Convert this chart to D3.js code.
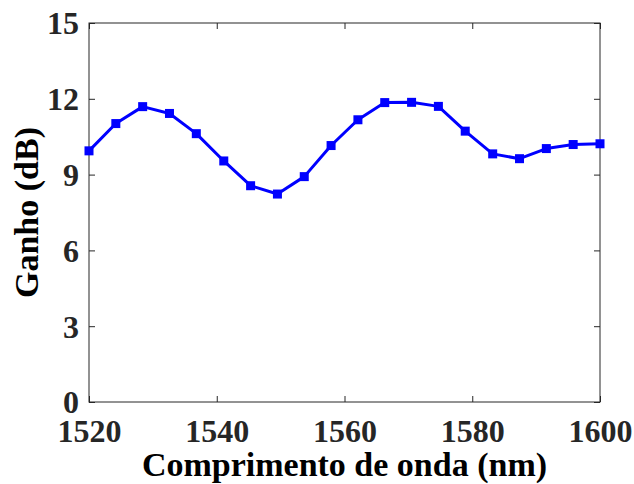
<!DOCTYPE html>
<html>
<head>
<meta charset="utf-8">
<script src="https://cdn.jsdelivr.net/npm/d3@7"></script>
<style>
  body { margin: 0; background: #fff; }
  svg text { font-family: "Liberation Serif", "Times New Roman", serif; font-weight: bold; fill: #262626; }
</style>
</head>
<body>
<svg id="chart" width="634" height="484"></svg>
<script>
// wavelength (nm) and gain (dB)
const wavelength = [1520, 1524.2, 1528.4, 1532.6, 1536.8, 1541.1, 1545.3, 1549.5, 1553.7, 1557.9,
  1562.1, 1566.3, 1570.5, 1574.7, 1578.9, 1583.2, 1587.4, 1591.6, 1595.8, 1600]
const gain = [9.94, 11.02, 11.69, 11.42, 10.62, 9.54, 8.56, 8.23, 8.92, 10.15,
  11.17, 11.85, 11.86, 11.70, 10.72, 9.82, 9.63, 10.03, 10.19, 10.22]
const xTicks = [1520, 1540, 1560, 1580, 1600]
const yTicks = [0, 3, 6, 9, 12, 15]

const margin = { left: 89, right: 34, top: 23, bottom: 82 }
const width = 634 - margin.left - margin.right
const height = 484 - margin.top - margin.bottom
const axisColor = '#262626'

const svg = d3.select('#chart')
const g = svg.append('g').attr('transform', `translate(${margin.left},${margin.top})`)

const x = d3.scaleLinear().domain([1520, 1600]).range([0, width])
const y = d3.scaleLinear().domain([0, 15]).range([height, 0])

// box
g.append('rect')
  .attr('width', width).attr('height', height)
  .attr('fill', 'none').attr('stroke', axisColor).attr('stroke-width', 1)

const tickLen = 6

// ticks point inward on all four sides
const xAxis = g.append('g').attr('transform', `translate(0,${height})`)
  .call(d3.axisBottom(x).tickValues(xTicks).tickFormat(d3.format('d')).tickSize(-tickLen).tickPadding(17))
const yAxis = g.append('g')
  .call(d3.axisLeft(y).tickValues(yTicks).tickFormat(d3.format('d')).tickSize(-tickLen).tickPadding(10))
g.append('g').call(d3.axisTop(x).tickValues(xTicks).tickSize(-tickLen).tickFormat(''))
g.append('g').attr('transform', `translate(${width},0)`)
  .call(d3.axisRight(y).tickValues(yTicks).tickSize(-tickLen).tickFormat(''))

g.selectAll('.domain').remove()
g.selectAll('.tick line').attr('stroke', axisColor)
g.selectAll('g').attr('font-family', null)
xAxis.selectAll('text').attr('font-size', 32).attr('fill', axisColor)
yAxis.selectAll('text').attr('font-size', 32).attr('fill', axisColor).attr('dy', '0.34em')

// line
const line = d3.line().x((d, i) => x(wavelength[i])).y(d => y(d))
g.append('path')
  .datum(gain)
  .attr('d', line)
  .attr('fill', 'none')
  .attr('stroke', '#0000ff')
  .attr('stroke-width', 3)
  .attr('stroke-linejoin', 'round')

const ms = 9
g.selectAll('.marker')
  .data(gain)
  .enter()
  .append('rect')
  .attr('class', 'marker')
  .attr('x', (d, i) => x(wavelength[i]) - ms / 2)
  .attr('y', d => y(d) - ms / 2)
  .attr('width', ms).attr('height', ms)
  .attr('fill', '#0000ff')

// axis titles
svg.append('text')
  .attr('x', margin.left + width / 2)
  .attr('y', 476)
  .attr('text-anchor', 'middle')
  .attr('font-size', 34)
  .style('fill', '#000')
  .text('Comprimento de onda (nm)')

svg.append('text')
  .attr('transform', `translate(38,${margin.top + height / 2}) rotate(-90)`)
  .attr('text-anchor', 'middle')
  .attr('font-size', 34)
  .style('fill', '#000')
  .text('Ganho (dB)')
</script>
</body>
</html>
